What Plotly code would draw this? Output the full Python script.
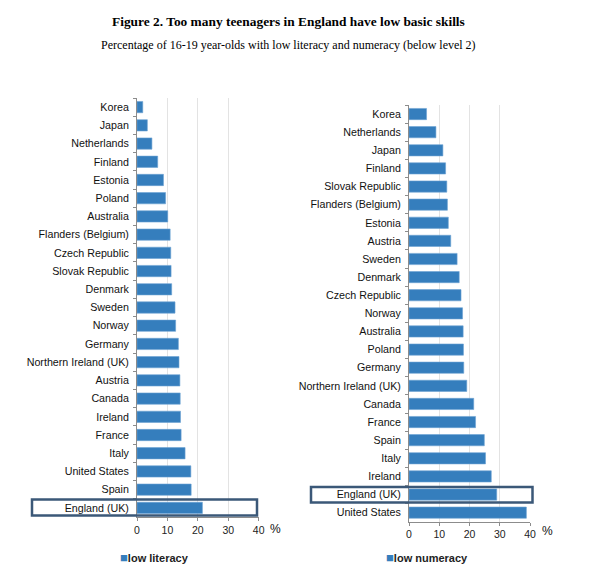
import plotly.graph_objects as go

# page body has an 8px margin, so the figure is shrunk and shifted to match
OFF = 8
W, H = 595 - 2 * OFF, 582 - 2 * OFF

literacy_countries = ['Korea', 'Japan', 'Netherlands', 'Finland', 'Estonia', 'Poland',
                      'Australia', 'Flanders (Belgium)', 'Czech Republic', 'Slovak Republic',
                      'Denmark', 'Sweden', 'Norway', 'Germany', 'Northern Ireland (UK)',
                      'Austria', 'Canada', 'Ireland', 'France', 'Italy', 'United States',
                      'Spain', 'England (UK)']
literacy_values = [1.9, 3.4, 4.9, 6.8, 8.7, 9.4, 10.1, 10.9, 11.1, 11.2, 11.4, 12.5,
                   12.7, 13.6, 13.8, 14.1, 14.2, 14.3, 14.5, 15.8, 17.7, 17.8, 21.5]

numeracy_countries = ['Korea', 'Netherlands', 'Japan', 'Finland', 'Slovak Republic',
                      'Flanders (Belgium)', 'Estonia', 'Austria', 'Sweden', 'Denmark',
                      'Czech Republic', 'Norway', 'Australia', 'Poland', 'Germany',
                      'Northern Ireland (UK)', 'Canada', 'France', 'Spain', 'Italy',
                      'Ireland', 'England (UK)', 'United States']
numeracy_values = [5.8, 8.9, 11.2, 12.1, 12.5, 12.7, 13.0, 13.8, 15.9, 16.6, 17.2,
                   17.7, 17.9, 18.0, 18.1, 19.1, 21.4, 22.0, 24.9, 25.3, 27.2, 29.0, 38.8]

x_ticks = [0, 10, 20, 30, 40]

BAR = '#357ebd'
FONT = 'Liberation Sans, Arial, sans-serif'
SERIF = 'Liberation Serif, Times New Roman, serif'


def px(x):
    return (x - OFF) / W


def py(y):
    return 1 - (y - OFF) / H


fig = go.Figure()

fig.add_trace(go.Bar(x=literacy_values, y=literacy_countries, orientation='h',
                     marker=dict(color=BAR, line=dict(color='#6da2d3', width=0.6)),
                     xaxis='x', yaxis='y', showlegend=False, hoverinfo='x+y'))
fig.add_trace(go.Bar(x=numeracy_values, y=numeracy_countries, orientation='h',
                     marker=dict(color=BAR, line=dict(color='#6da2d3', width=0.6)),
                     xaxis='x2', yaxis='y2', showlegend=False, hoverinfo='x+y'))


def xaxis_style(domain, anchor):
    return dict(domain=domain, anchor=anchor, range=[0, 40], tickvals=x_ticks,
                showgrid=True, gridcolor='#e3e3e3', gridwidth=1, zeroline=False,
                showline=True, linecolor='#8c8c8c', linewidth=1,
                ticks='outside', ticklen=3, tickcolor='#8c8c8c', automargin=False,
                tickfont=dict(family=FONT, size=10.5, color='#222'), fixedrange=True)


def yaxis_style(domain, anchor):
    return dict(domain=domain, anchor=anchor, autorange='reversed', type='category',
                showline=True, linecolor='#8c8c8c', linewidth=1,
                ticks='outside', ticklen=3, tickcolor='#8c8c8c', tickson='boundaries',
                ticklabelstandoff=5, automargin=False,
                showgrid=False, tickfont=dict(family=FONT, size=10.7, color='#111'),
                fixedrange=True)


fig.update_layout(
    width=W, height=H,
    margin=dict(l=0, r=0, t=0, b=0, autoexpand=False),
    paper_bgcolor='white', plot_bgcolor='white',
    bargap=0.38,
    xaxis=xaxis_style([px(137), px(258.7)], 'y'),
    yaxis=yaxis_style([py(517), py(98)], 'x'),
    xaxis2=xaxis_style([px(409), px(530)], 'y2'),
    yaxis2=yaxis_style([py(521.7), py(105)], 'x2'),
)

annotations = [
    dict(x=px(288), y=py(22), text='<b>Figure 2. Too many teenagers in England have low basic skills</b>',
         font=dict(family=SERIF, size=13.4, color='#000')),
    dict(x=px(288), y=py(45), text='Percentage of 16-19 year-olds with low literacy and numeracy (below level 2)',
         font=dict(family=SERIF, size=12, color='#000')),
    dict(x=px(275), y=py(529), text='%', font=dict(family=FONT, size=12, color='#111')),
    dict(x=px(547), y=py(531), text='%', font=dict(family=FONT, size=12, color='#111')),
    dict(x=px(118), y=py(557), xanchor='left',
         text=f"<span style='color:{BAR};font-size:13px'>■</span><b>low literacy</b>",
         font=dict(family=FONT, size=11, color='#222')),
    dict(x=px(384), y=py(557), xanchor='left',
         text=f"<span style='color:{BAR};font-size:13px'>■</span><b>low numeracy</b>",
         font=dict(family=FONT, size=11, color='#222')),
]
for a in annotations:
    a.setdefault('xanchor', 'center')
    a.update(xref='paper', yref='paper', yanchor='middle', showarrow=False)
fig.update_layout(annotations=annotations)

# boxes around England (UK)
box_line = dict(color='#3b5878', width=2.5)
fig.add_shape(type='rect', xref='paper', yref='paper', x0=px(32), x1=px(257),
              y0=py(515.5), y1=py(499.5), line=box_line, layer='above')
fig.add_shape(type='rect', xref='paper', yref='paper', x0=px(311), x1=px(532.5),
              y0=py(502.5), y1=py(487), line=box_line, layer='above')

fig.write_html("out.html")
